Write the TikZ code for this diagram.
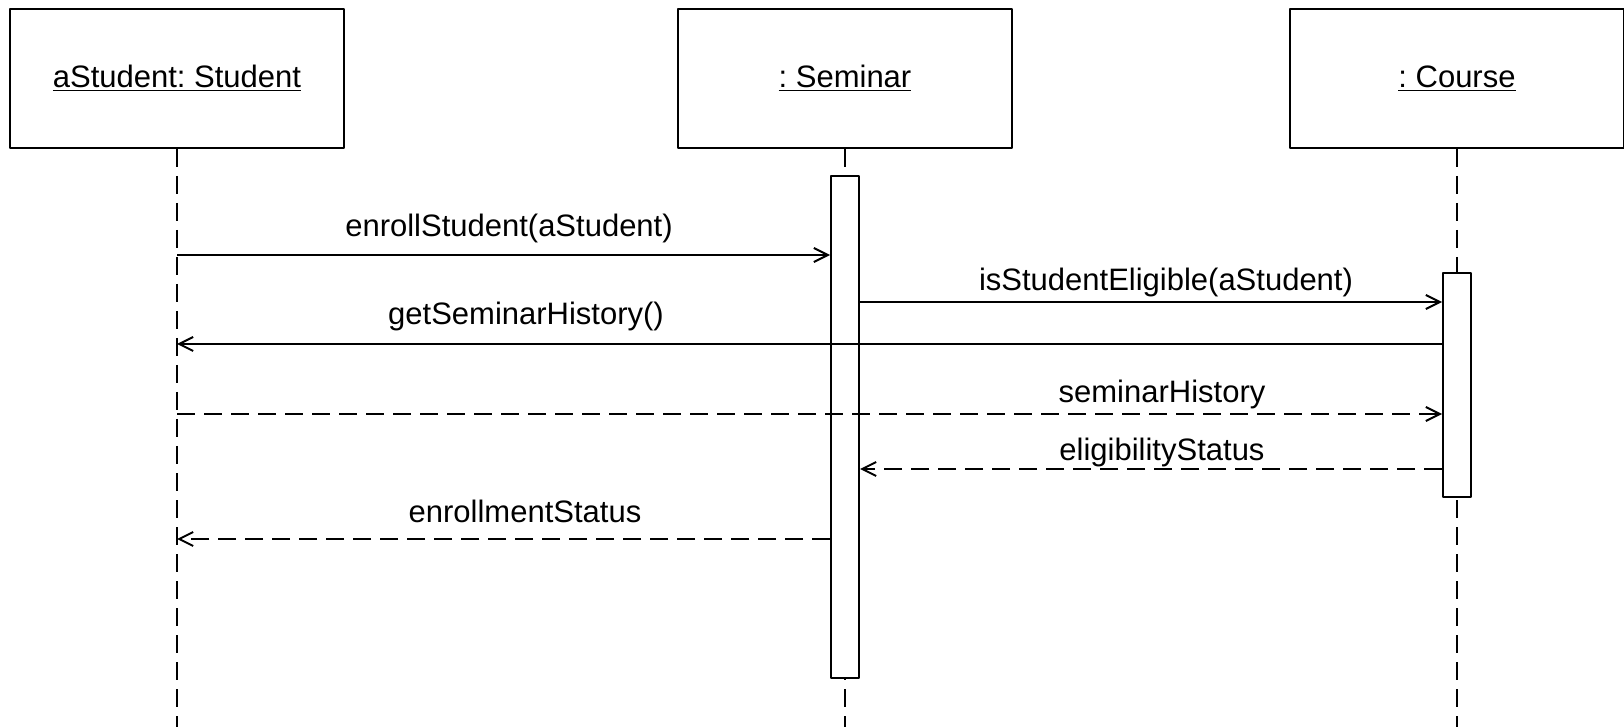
\documentclass[tikz,border=0pt]{standalone}
\usepackage{fontspec}
\setmainfont{Liberation Sans}
\usetikzlibrary{arrows.meta}
\frenchspacing
\begin{document}
\begin{tikzpicture}[x=0.5pt,y=-0.5pt,font=\fontsize{15.5}{18}\selectfont,line join=round,
  obj/.style={draw,line width=1pt,minimum width=167pt,minimum height=69.5pt,inner sep=0pt},
  actbar/.style={draw,fill=white,line width=1pt,minimum width=14pt,inner sep=0pt},
  life/.style={line width=1pt,dash pattern=on 9pt off 4.5pt},
  msg/.style={line width=1pt,-{Straight Barb[length=7pt,width=7pt]}},
  ret/.style={msg,dash pattern=on 9pt off 4.5pt},
  lbl/.style={anchor=base,inner sep=0pt}]
\useasboundingbox (0,0) rectangle (1624,727);
% objects
\node[obj] (student) at (177,78.5) {\underline{aStudent: Student}};
\node[obj] (seminar) at (845,78.5) {\underline{: Seminar}};
\node[obj] (course) at (1457,78.5) {\underline{: Course}};
\coordinate (studentend) at (177,727);
\coordinate (seminarend) at (845,727);
\coordinate (courseend) at (1457,727);
% lifelines
\draw[life] (student) -- (studentend);
\draw[life] (seminar) -- (seminarend);
\draw[life] (course) -- (courseend);
% activations
\node[actbar,minimum height=251pt] (semact) at (845,427) {};
\node[actbar,minimum height=112pt] (couact) at (1457,385) {};
% message heights
\coordinate (m1) at (177,255);
\coordinate (m2) at (845,302);
\coordinate (m3) at (177,344);
\coordinate (m4) at (177,414);
\coordinate (m5) at (845,469);
\coordinate (m6) at (177,539);
% messages
\draw[msg] (m1) -- (semact.west |- m1);
\draw[msg] (semact.east |- m2) -- (couact.west |- m2);
\draw[msg] (couact.west |- m3) -- (m3);
\draw[ret] (m4) -- (couact.west |- m4);
\draw[ret] (couact.west |- m5) -- (semact.east |- m5);
\draw[ret] (semact.west |- m6) -- (m6);
% labels
\node[lbl] (l1) at (509,237) {enrollStudent(aStudent)};
\node[lbl] (l2) at (1166,291) {isStudentEligible(aStudent)};
\node[lbl] (l3) at (526,325) {getSeminarHistory()};
\node[lbl] (l4) at (1162,403) {seminarHistory};
\node[lbl] (l5) at (1162,460) {eligibilityStatus};
\node[lbl] (l6) at (525,523) {enrollmentStatus};
\end{tikzpicture}
\end{document}
